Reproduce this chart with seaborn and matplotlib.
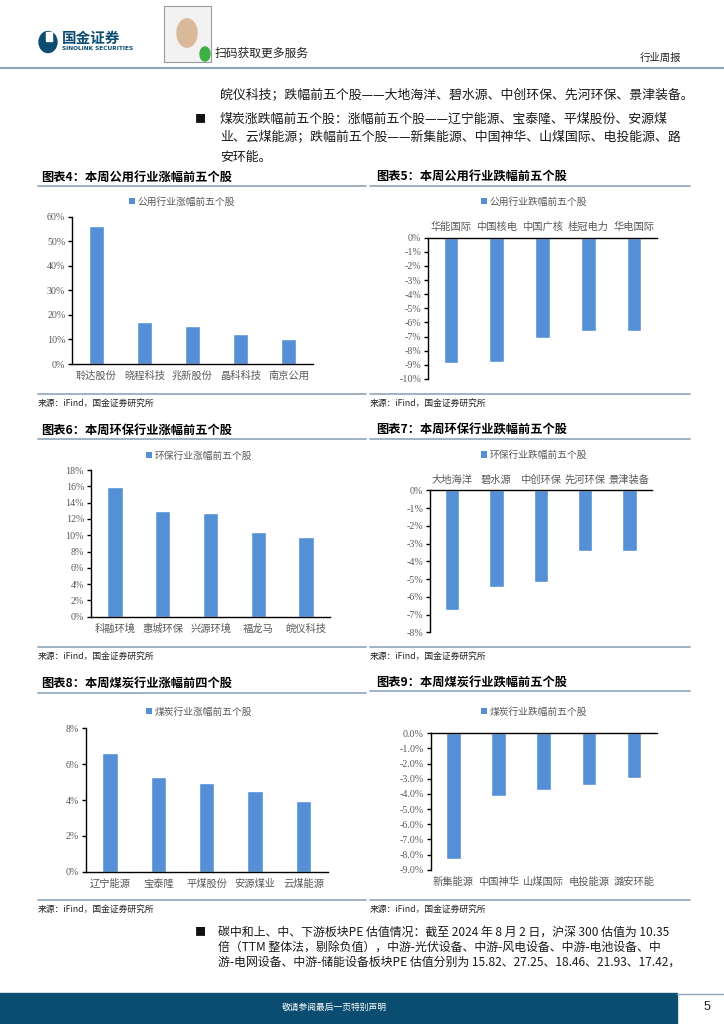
import matplotlib
matplotlib.use("Agg")
import matplotlib.pyplot as plt
import seaborn as sns
import pandas as pd
from matplotlib.patches import Rectangle, Ellipse, Circle, Patch
from matplotlib.lines import Line2D

sns.set_theme(style="white")
plt.rcParams['font.family'] = ['Noto Sans CJK SC', 'DejaVu Sans']
plt.rcParams['axes.unicode_minus'] = False

# ---------------- data ----------------
util_up_names = ['聆达股份', '晓程科技', '兆新股份', '晶科科技', '南京公用']
util_up_vals = [56.3, 17.2, 15.3, 12.3, 10.3]
util_down_names = ['华能国际', '中国核电', '中国广核', '桂冠电力', '华电国际']
util_down_vals = [-8.87, -8.78, -7.10, -6.61, -6.59]
env_up_names = ['科融环境', '惠城环保', '兴源环境', '福龙马', '皖仪科技']
env_up_vals = [15.95, 12.93, 12.76, 10.39, 9.74]
env_down_names = ['大地海洋', '碧水源', '中创环保', '先河环保', '景津装备']
env_down_vals = [-6.74, -5.46, -5.18, -3.44, -3.40]
coal_up_names = ['辽宁能源', '宝泰隆', '平煤股份', '安源煤业', '云煤能源']
coal_up_vals = [6.64, 5.30, 4.93, 4.52, 3.96]
coal_down_names = ['新集能源', '中国神华', '山煤国际', '电投能源', '潞安环能']
coal_down_vals = [-8.32, -4.16, -3.72, -3.41, -2.97]

W, H = 724, 1024
fig = plt.figure(figsize=(W / 100, H / 100), dpi=100)
fig.patch.set_facecolor('white')

BAR = '#5590D6'
GRAY = '#595959'
LINE = '#8FA6BA'
NAVY = '#0B4D70'


def fx(x):
    return x / W


def fy(y):
    return 1 - y / H


def ftext(x, y, s, **kw):
    fig.text(fx(x), fy(y), s, **kw)


def hline(x0, x1, y, color=LINE, lw=1.2):
    fig.add_artist(Line2D([fx(x0), fx(x1)], [fy(y), fy(y)], color=color, lw=lw,
                          transform=fig.transFigure))


# ---------------- header ----------------
fig.add_artist(Ellipse((fx(48), fy(42)), 18 / W, 21 / H, color=NAVY, transform=fig.transFigure))
fig.add_artist(Rectangle((fx(46), fy(41)), 6 / W, 9 / H, color='white', transform=fig.transFigure))
ftext(62, 38, '国金证券', fontsize=10.5, fontweight='bold', color=NAVY, va='center')
ftext(62, 49, 'SINOLINK SECURITIES', fontsize=4.2, fontweight='bold', color=NAVY,
      va='center', family=['DejaVu Sans'])
# QR code placeholder
fig.add_artist(Rectangle((fx(164), fy(62)), 47 / W, 56 / H, facecolor='#f2f2f2',
                         edgecolor='#9a9a9a', lw=0.8, transform=fig.transFigure))
fig.add_artist(Circle((fx(187), fy(33)), 10 / W, color='#d9b99a', transform=fig.transFigure))
fig.add_artist(Circle((fx(205), fy(54)), 5 / W, color='#3cb043', transform=fig.transFigure))
ftext(215, 53, '扫码获取更多服务', fontsize=8.5, color='#222222', va='center')
ftext(640, 58, '行业周报', fontsize=7.5, color='#222222', va='center')
hline(0, 724, 67.5, color=LINE, lw=1.5)

# ---------------- intro paragraph ----------------
para_kw = dict(fontsize=9.3, color='#1a1a1a', va='center')
ftext(220, 96, '皖仪科技；跌幅前五个股——大地海洋、碧水源、中创环保、先河环保、景津装备。', **para_kw)
ftext(195, 119, '■', fontsize=8, color='#111111', va='center')
ftext(220, 119, '煤炭涨跌幅前五个股：涨幅前五个股——辽宁能源、宝泰隆、平煤股份、安源煤', **para_kw)
ftext(220, 138, '业、云煤能源；跌幅前五个股——新集能源、中国神华、山煤国际、电投能源、路', **para_kw)
ftext(220, 157, '安环能。', **para_kw)


# ---------------- chart helper ----------------
def chart(rect, names, vals, ticks, decimals, title, title_xy, frame, legend_label, legend_xy,
          labels_top):
    l, t, r, b = rect
    ax = fig.add_axes([fx(l), fy(b), (r - l) / W, (b - t) / H])
    df = pd.DataFrame({'name': names, 'val': vals})
    sns.barplot(data=df, x='name', y='val', color=BAR, width=0.32, ax=ax,
                errorbar=None, saturation=1)
    ax.set_ylim(ticks[0], ticks[-1])
    ax.set_yticks(ticks)
    ax.set_yticklabels([f"{v:.{decimals}f}%" for v in ticks], family=['Liberation Serif'],
                       fontsize=7.2, color=GRAY)
    ax.set_xlabel('')
    ax.set_ylabel('')
    ax.set_facecolor('white')
    for s in ax.spines.values():
        s.set_visible(False)
    ax.spines['left'].set_visible(True)
    ax.spines['left'].set_color('black')
    ax.spines['left'].set_linewidth(1)
    neg = ticks[-1] <= 0
    if neg:
        ax.spines['top'].set_visible(True)
        ax.spines['top'].set_color('black')
        ax.spines['top'].set_linewidth(1)
    else:
        ax.spines['bottom'].set_visible(True)
        ax.spines['bottom'].set_color('black')
        ax.spines['bottom'].set_linewidth(1)
    ax.tick_params(axis='y', which='major', left=True, direction='out', length=3,
                   width=1, color='black', pad=2)
    if labels_top:
        ax.xaxis.tick_top()
        ax.tick_params(axis='x', top=False, bottom=False, labeltop=True, labelbottom=False,
                       labelsize=7.4, labelcolor=GRAY, pad=4, length=0)
    else:
        ax.tick_params(axis='x', bottom=False, top=False, labelsize=7.4, labelcolor=GRAY,
                       pad=5, length=0)
    ax.grid(False)
    # legend
    handle = Patch(facecolor=BAR, edgecolor='none', label=legend_label)
    ax.legend(handles=[handle], loc='center', bbox_to_anchor=(fx(legend_xy[0]), fy(legend_xy[1])),
              bbox_transform=fig.transFigure, frameon=False, fontsize=7,
              handlelength=0.6, handleheight=0.6, handletextpad=0.25, labelcolor=GRAY)
    # title, frame lines, source
    fx0, fx1, ty, by = frame
    ftext(title_xy[0], title_xy[1], title, fontsize=8.8, fontweight='bold', color='black',
          va='center')
    hline(fx0, fx1, ty)
    hline(fx0, fx1, by)
    ftext(fx0, by + 9, '来源：iFind，国金证券研究所', fontsize=6.3, color='#222222', va='center')
    return ax


chart((72.3, 216.7, 312.7, 364), util_up_names, util_up_vals, list(range(0, 61, 10)), 0,
      '图表4：本周公用行业涨幅前五个股', (41, 177), (38, 366, 185.7, 394),
      '公用行业涨幅前五个股', (182, 201.7), False)
chart((428, 237.7, 657, 379), util_down_names, util_down_vals, list(range(-10, 1, 1)), 0,
      '图表5：本周公用行业跌幅前五个股', (376, 177), (370, 690, 185.7, 394),
      '公用行业跌幅前五个股', (534, 201.7), True)
chart((91, 470, 330, 616.7), env_up_names, env_up_vals, list(range(0, 19, 2)), 0,
      '图表6：本周环保行业涨幅前五个股', (41, 430), (38, 366, 439, 647),
      '环保行业涨幅前五个股', (199, 455.7), False)
chart((430, 490.3, 651.7, 632.3), env_down_names, env_down_vals, list(range(-8, 1, 1)), 0,
      '图表7：本周环保行业跌幅前五个股', (376, 430), (370, 690, 438.5, 647),
      '环保行业跌幅前五个股', (534, 455), True)
chart((85.7, 728.3, 327.7, 871.7), coal_up_names, coal_up_vals, list(range(0, 9, 2)), 0,
      '图表8：本周煤炭行业涨幅前四个股', (41, 683), (38, 366, 692.5, 900),
      '煤炭行业涨幅前五个股', (199, 711.7), False)
chart((430.7, 733.3, 656.7, 869.7), coal_down_names, coal_down_vals, list(range(-9, 1, 1)), 1,
      '图表9：本周煤炭行业跌幅前五个股', (376, 683), (370, 690, 691, 900),
      '煤炭行业跌幅前五个股', (534, 711.7), False)

# ---------------- bottom paragraph ----------------
bkw = dict(fontsize=8.6, color='#1a1a1a', va='center')
ftext(195, 932, '■', fontsize=8, color='#111111', va='center')
ftext(218, 932, '碳中和上、中、下游板块PE 估值情况：截至 2024 年 8 月 2 日，沪深 300 估值为 10.35', **bkw)
ftext(218, 947, '倍（TTM 整体法，剔除负值），中游-光伏设备、中游-风电设备、中游-电池设备、中', **bkw)
ftext(218, 962, '游-电网设备、中游-储能设备板块PE 估值分别为 15.82、27.25、18.46、21.93、17.42，', **bkw)

# ---------------- footer ----------------
fig.add_artist(Rectangle((0, 0), fx(677), 31 / H, color=NAVY, transform=fig.transFigure))
hline(677, 724, 993.5, color=LINE, lw=1)
ftext(282, 1007, '敬请参阅最后一页特别声明', fontsize=6.3, color='white', va='center')
ftext(704, 1007, '5', fontsize=9, color='#222222', va='center', family=['Liberation Sans'])

fig.savefig('out.png', dpi=100, facecolor='white')
